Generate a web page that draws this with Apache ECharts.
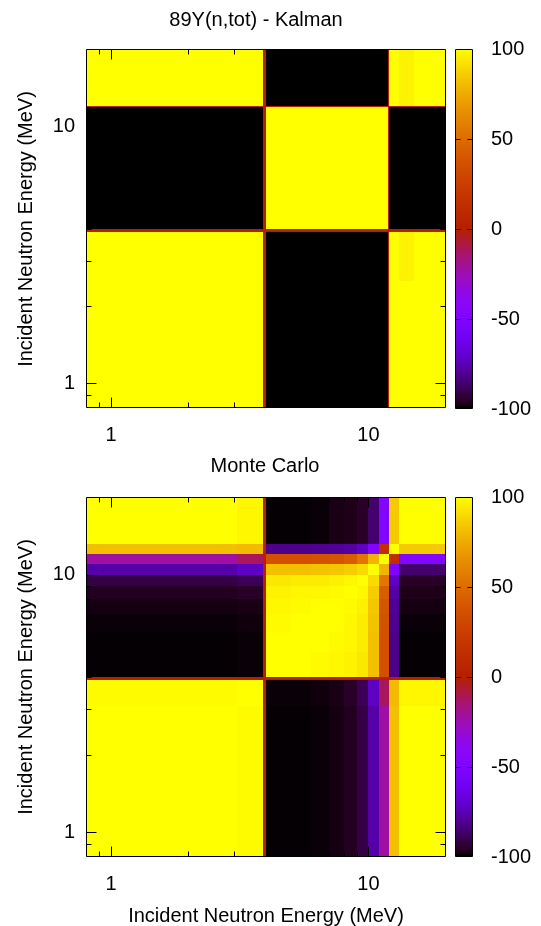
<!DOCTYPE html>
<html>
<head>
<meta charset="utf-8">
<script src="https://cdn.jsdelivr.net/npm/echarts@6/dist/echarts.min.js"></script>
<style>
  html, body { margin: 0; padding: 0; background: #fff; }
  #chart { width: 541px; height: 926px; }
</style>
</head>
<body>
<div id="chart"></div>
<script>
// energy bin edges (MeV); rows = y bins (low -> high), columns = x bins
var kalmanEdges = [0.8, 2.5, 3.88, 4.0, 11.93, 12.05, 13.1, 15, 20];
var kalmanCorr = [
  [ 100,  100, 0, -100, 0,  100,  100,  100],
  [ 100,  100, 0, -100, 0,  100,   97,  100],
  [   0,    0, 0,    0, 0,    0,    0,    0],
  [-100, -100, 0,  100, 0, -100, -100, -100],
  [   0,    0, 0,    0, 0,    0,    0,    0],
  [ 100,  100, 0, -100, 0,  100,   97,  100],
  [ 100,  100, 0, -100, 0,  100,   97,  100],
  [ 100,  100, 0, -100, 0,  100,   97,  100]
];

var mcEdges = [0.8, 2.0, 3.1, 3.88, 4.0, 5.0, 6.0, 7.0, 8.0, 9.0, 10.0, 11.0, 12.0, 13.1, 20];
var mcCorr = [
  [  100,   100,    99, 0, -99.5, -99.5,   -99,   -98,  -96, -91, -77, -22,  82,   100],
  [  100,   100,    99, 0, -99.5, -99.5,   -99,   -98,  -96, -91, -77, -22,  82,   100],
  [   99,    99,   100, 0,   -99,   -99, -98.5, -97.5,  -95, -89, -72, -12,  80,    98],
  [    0,     0,     0, 0,     0,     0,     0,     0,    0,   0,   0,   0,   0,     0],
  [-99.5, -99.5,   -99, 0,   100,   100,    99,    98,   97,  94,  82,  36, -82, -99.5],
  [-99.5, -99.5,   -99, 0,   100,   100,   100,    99,   98,  95,  82,  36, -82, -99.5],
  [  -99,   -99, -98.5, 0,    99,   100,   100,   100,   98,  95,  83,  37, -81,   -99],
  [  -98,   -98, -97.5, 0,    98,    99,   100,   100,   99,  96,  84,  39, -80,   -98],
  [  -96,   -96,   -95, 0,    97,    98,    98,    99,  100,  98,  86,  43, -78,   -97],
  [  -91,   -91,   -89, 0,    94,    95,    95,    96,   98, 100,  90,  55, -72,   -95],
  [  -77,   -77,   -72, 0,    82,    82,    83,    84,   86,  90, 100,  78, -50,   -86],
  [  -22,   -22,   -12, 0,    36,    36,    37,    39,   43,  55,  78, 100,  14,   -48],
  [   82,    82,    80, 0,   -82,   -82,   -81,   -80,  -78, -72, -50,  14, 100,    85],
  [  100,   100,    98, 0, -99.5, -99.5,   -99, -97.5,  -97, -95, -86, -48,  85,   100]
];

var majorTicks = [1, 10];
var minorTicks = [0.9, 2, 3, 4, 5, 6, 7, 8, 9];
var cbTicks = [-50, 0, 50];

var FONT = 'Liberation Sans, Arial, sans-serif';
var chart = echarts.init(document.getElementById('chart'));

// gnuplot default pm3d palette (rgbformulae 7,5,15)
function gnuPalette(n) {
  var out = [];
  for (var k = 0; k <= n; k++) {
    var t = k / n;
    var r = Math.sqrt(t), g = t * t * t, b = Math.max(0, Math.sin(2 * Math.PI * t));
    out.push('rgb(' + Math.round(r * 255) + ',' + Math.round(g * 255) + ',' + Math.round(b * 255) + ')');
  }
  return out;
}
var palette = gnuPalette(60);

function cells(edges, corr) {
  var out = [];
  for (var i = 0; i < corr.length; i++) {
    for (var j = 0; j < corr[i].length; j++) {
      out.push([edges[j], edges[i], edges[j + 1], edges[i + 1], corr[i][j]]);
    }
  }
  return out;
}

function renderCell(params, api) {
  var p0 = api.coord([api.value(0), api.value(1)]);
  var p1 = api.coord([api.value(2), api.value(3)]);
  var x0 = Math.round(Math.min(p0[0], p1[0])), x1 = Math.round(Math.max(p0[0], p1[0]));
  var y0 = Math.round(Math.min(p0[1], p1[1])), y1 = Math.round(Math.max(p0[1], p1[1]));
  return {
    type: 'rect',
    shape: { x: x0, y: y0, width: Math.max(1, x1 - x0), height: Math.max(1, y1 - y0) },
    style: { fill: api.visual('color') }
  };
}

// ticks on all four sides, pointing inward, plus frame
function renderTick(params, api) {
  var cs = params.coordSys;
  var p = api.coord([api.value(0), api.value(1)]);
  var L = api.value(2);
  var x = Math.round(p[0]) + 0.5, y = Math.round(p[1]) + 0.5;
  var l = cs.x + 0.5, r = cs.x + cs.width - 0.5, t = cs.y + 0.5, b = cs.y + cs.height - 0.5;
  var st = { stroke: '#000', lineWidth: 1 };
  var ch = [
    { type: 'line', shape: { x1: x, y1: b, x2: x, y2: b - L }, style: st },
    { type: 'line', shape: { x1: x, y1: t, x2: x, y2: t + L }, style: st },
    { type: 'line', shape: { x1: l, y1: y, x2: l + L, y2: y }, style: st },
    { type: 'line', shape: { x1: r, y1: y, x2: r - L, y2: y }, style: st }
  ];
  if (params.dataIndex === 0) {
    ch.push({ type: 'rect', shape: { x: l, y: t, width: r - l, height: b - t },
      style: { fill: 'none', stroke: '#000', lineWidth: 1 } });
  }
  return { type: 'group', children: ch };
}

function renderBar(params, api) {
  var p0 = api.coord([api.value(0), api.value(1)]);
  var p1 = api.coord([api.value(2), api.value(3)]);
  var stops = palette.map(function (c, k) { return { offset: k / (palette.length - 1), color: c }; });
  return {
    type: 'rect',
    shape: { x: Math.round(p0[0]) + 0.5, y: Math.round(p1[1]) + 0.5,
      width: Math.round(p1[0] - p0[0]) - 1, height: Math.round(p0[1] - p1[1]) - 1 },
    style: { fill: new echarts.graphic.LinearGradient(0, 1, 0, 0, stops), stroke: '#000', lineWidth: 1 }
  };
}

function renderBarTick(params, api) {
  var cs = params.coordSys;
  var y = Math.round(api.coord([0, api.value(0)])[1]) + 0.5;
  var l = cs.x + 0.5, r = cs.x + cs.width - 0.5;
  var st = { stroke: '#000', lineWidth: 1 };
  return { type: 'group', children: [
    { type: 'line', shape: { x1: l, y1: y, x2: l + 5, y2: y }, style: st },
    { type: 'line', shape: { x1: r, y1: y, x2: r - 5, y2: y }, style: st }
  ] };
}

var tickItems = majorTicks.map(function (v) { return [v, v, 10]; })
  .concat(minorTicks.map(function (v) { return [v, v, 5]; }));

function logLabel(v) {
  var l = Math.log10(v);
  return Math.abs(l - Math.round(l)) < 1e-6 ? String(Math.round(v)) : '';
}

function logAxis(gi, pos, margin) {
  return {
    gridIndex: gi, type: 'log', logBase: 10, min: 0.8, max: 20, position: pos,
    axisLine: { show: false }, axisTick: { show: false }, splitLine: { show: false },
    axisLabel: { fontSize: 20, fontFamily: FONT, color: '#000', margin: margin,
      formatter: logLabel, showMinLabel: false, showMaxLabel: false }
  };
}

function cbAxisX(gi) {
  return { gridIndex: gi, type: 'value', min: 0, max: 1, show: false };
}
function cbAxisY(gi) {
  return {
    gridIndex: gi, type: 'value', min: -100, max: 100, interval: 50, position: 'right',
    axisLine: { show: false }, axisTick: { show: false }, splitLine: { show: false },
    axisLabel: { fontSize: 20, fontFamily: FONT, color: '#000', margin: 18 }
  };
}

function txt(text, x, y, rot) {
  return {
    type: 'text', x: x, y: y, rotation: rot || 0, silent: true,
    style: { text: text, fontSize: 20, fontFamily: FONT, fill: '#000',
      align: 'center', verticalAlign: 'middle' }
  };
}

chart.setOption({
  animation: false,
  backgroundColor: '#fff',
  grid: [
    { left: 86, top: 49, width: 360, height: 359 },
    { left: 86, top: 497, width: 360, height: 360 },
    { left: 455, top: 49, width: 18, height: 360 },
    { left: 455, top: 497, width: 18, height: 360 }
  ],
  xAxis: [logAxis(0, 'bottom', 17), logAxis(1, 'bottom', 17), cbAxisX(2), cbAxisX(3)],
  yAxis: [logAxis(0, 'left', 11), logAxis(1, 'left', 11), cbAxisY(2), cbAxisY(3)],
  visualMap: {
    type: 'continuous', show: false, min: -100, max: 100, dimension: 4,
    seriesIndex: [0, 1], inRange: { color: palette }
  },
  graphic: [
    txt('89Y(n,tot) - Kalman', 256, 20),
    txt('Monte Carlo', 265, 466),
    txt('Incident Neutron Energy (MeV)', 266, 916),
    txt('Incident Neutron Energy (MeV)', 26, 229, Math.PI / 2),
    txt('Incident Neutron Energy (MeV)', 26, 677, Math.PI / 2)
  ],
  series: [
    { type: 'custom', xAxisIndex: 0, yAxisIndex: 0, renderItem: renderCell,
      encode: { x: [0, 2], y: [1, 3] }, data: cells(kalmanEdges, kalmanCorr) },
    { type: 'custom', xAxisIndex: 1, yAxisIndex: 1, renderItem: renderCell,
      encode: { x: [0, 2], y: [1, 3] }, data: cells(mcEdges, mcCorr) },
    { type: 'custom', xAxisIndex: 0, yAxisIndex: 0, z: 10, renderItem: renderTick,
      encode: { x: 0, y: 1 }, data: tickItems },
    { type: 'custom', xAxisIndex: 1, yAxisIndex: 1, z: 10, renderItem: renderTick,
      encode: { x: 0, y: 1 }, data: tickItems },
    { type: 'custom', xAxisIndex: 2, yAxisIndex: 2, renderItem: renderBar,
      encode: { x: [0, 2], y: [1, 3] }, data: [[0, -100, 1, 100]] },
    { type: 'custom', xAxisIndex: 3, yAxisIndex: 3, renderItem: renderBar,
      encode: { x: [0, 2], y: [1, 3] }, data: [[0, -100, 1, 100]] },
    { type: 'custom', xAxisIndex: 2, yAxisIndex: 2, z: 10, renderItem: renderBarTick,
      encode: { y: 0 }, data: cbTicks.map(function (v) { return [v]; }) },
    { type: 'custom', xAxisIndex: 3, yAxisIndex: 3, z: 10, renderItem: renderBarTick,
      encode: { y: 0 }, data: cbTicks.map(function (v) { return [v]; }) }
  ]
});
</script>
</body>
</html>
